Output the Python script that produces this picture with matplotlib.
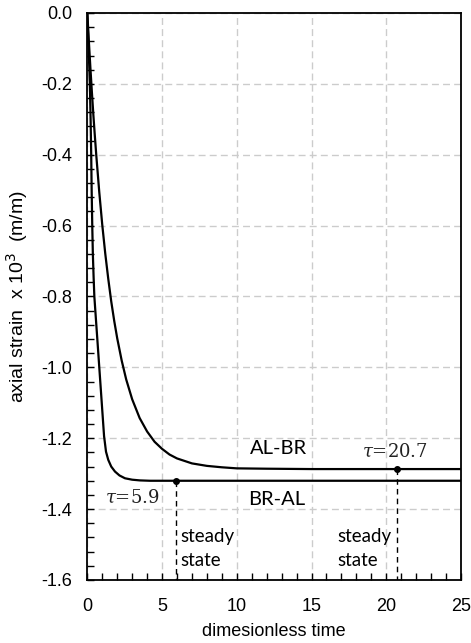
import matplotlib
matplotlib.use("Agg")
import matplotlib.pyplot as plt
from matplotlib.ticker import MultipleLocator, FormatStrFormatter

plt.rcParams['mathtext.fontset'] = 'dejavuserif'

# BR-AL curve (fast)
t_bral = [0, 0.06, 0.12, 0.17, 0.22, 0.26, 0.29, 0.33, 0.37, 0.42, 0.47, 0.57, 0.67, 0.8, 0.96, 1.12,
          1.25, 1.4, 1.6, 1.85, 2.15, 2.52, 3.0, 3.52, 4.2, 5.9, 25]
y_bral = [0, -0.07, -0.14, -0.20, -0.30, -0.40, -0.50, -0.60, -0.68, -0.745, -0.80, -0.861, -0.921, -1.0, -1.097, -1.194,
          -1.238, -1.261, -1.280, -1.294, -1.305, -1.313, -1.317, -1.319, -1.32, -1.32, -1.32]

# AL-BR curve (slow)
t_albr = [0, 0.1, 0.2, 0.3, 0.4, 0.5, 0.6, 0.8, 1.0, 1.2, 1.4, 1.6, 1.8, 2.0, 2.3, 2.6, 3.0, 3.5,
          4.0, 4.5, 5.0, 5.5, 6.0, 7.0, 8.0, 9.0, 10.0, 12.0, 15.0, 20.7, 25]
y_albr = [0, -0.078, -0.151, -0.220, -0.285, -0.345, -0.402, -0.506, -0.598, -0.679, -0.750, -0.814, -0.869,
          -0.918, -0.981, -1.034, -1.090, -1.143, -1.181, -1.210, -1.230, -1.246, -1.257, -1.271, -1.278,
          -1.282, -1.285, -1.286, -1.287, -1.287, -1.287]

tau_bral = 5.9
tau_albr = 20.7
ss_bral = -1.32
ss_albr = -1.287

fig = plt.figure(figsize=(4.71, 6.43), dpi=100)
ax = fig.add_axes([0.1854, 0.098, 0.7934, 0.8818])

ax.plot(t_bral, y_bral, color='black', lw=1.6, solid_capstyle='round', solid_joinstyle='round', zorder=3)
ax.plot(t_albr, y_albr, color='black', lw=1.6, solid_capstyle='round', solid_joinstyle='round', zorder=3)

ax.plot([tau_bral], [ss_bral], 'o', color='black', ms=4, zorder=4)
ax.plot([tau_albr], [ss_albr], 'o', color='black', ms=4, zorder=4)
ax.plot([tau_bral, tau_bral], [ss_bral, -1.6], color='black', lw=1.0, ls=(0, (4, 3)), zorder=3)
ax.plot([tau_albr, tau_albr], [ss_albr, -1.6], color='black', lw=1.0, ls=(0, (4, 3)), zorder=3)

ax.set_xlim(0, 25)
ax.set_ylim(-1.6, 0.0)
ax.xaxis.set_major_locator(MultipleLocator(5))
ax.xaxis.set_minor_locator(MultipleLocator(1))
ax.yaxis.set_major_locator(MultipleLocator(0.2))
ax.yaxis.set_minor_locator(MultipleLocator(0.04))
ax.yaxis.set_major_formatter(FormatStrFormatter('%.1f'))

ax.tick_params(axis='both', which='both', direction='in', length=5, width=1.0,
               top=False, right=False)
ax.tick_params(axis='x', which='major', pad=13, labelsize=13)
ax.tick_params(axis='y', which='major', pad=11, labelsize=13)
for lab in ax.get_xticklabels() + ax.get_yticklabels():
    lab.set_fontfamily('Liberation Sans')

ax.grid(True, which='major', color='#cccccc', ls=(0, (5, 3)), lw=1.0)
ax.set_axisbelow(True)
for s in ax.spines.values():
    s.set_linewidth(1.3)
    s.set_color('black')

ax.set_xlabel('dimesionless time', fontsize=13, family='Liberation Sans', labelpad=6)
ax.set_ylabel(r'axial strain  x 10$^{3}$  (m/m)', fontsize=14, family='Liberation Sans', labelpad=8)
ax.yaxis.label.set_math_fontfamily('dejavusans')

ax.text(12.8, -1.229, 'AL-BR', fontsize=14.5, family='Lato', ha='center', va='center')
ax.text(12.7, -1.374, 'BR-AL', fontsize=14.5, family='Lato', ha='center', va='center')

ax.text(3.0, -1.368, r'$\tau$=5.9', fontsize=13, family='DejaVu Serif', ha='center', va='center', color='#222222')
ax.text(20.55, -1.238, r'$\tau$=20.7', fontsize=13, family='DejaVu Serif', ha='center', va='center', color='#222222')

ax.text(6.2, -1.478, 'steady', fontsize=13.5, family='Lato', ha='left', va='center')
ax.text(6.2, -1.546, 'state', fontsize=13.5, family='Lato', ha='left', va='center')
ax.text(16.7, -1.478, 'steady', fontsize=13.5, family='Lato', ha='left', va='center')
ax.text(16.7, -1.546, 'state', fontsize=13.5, family='Lato', ha='left', va='center')

fig.savefig('out.png', dpi=100)
